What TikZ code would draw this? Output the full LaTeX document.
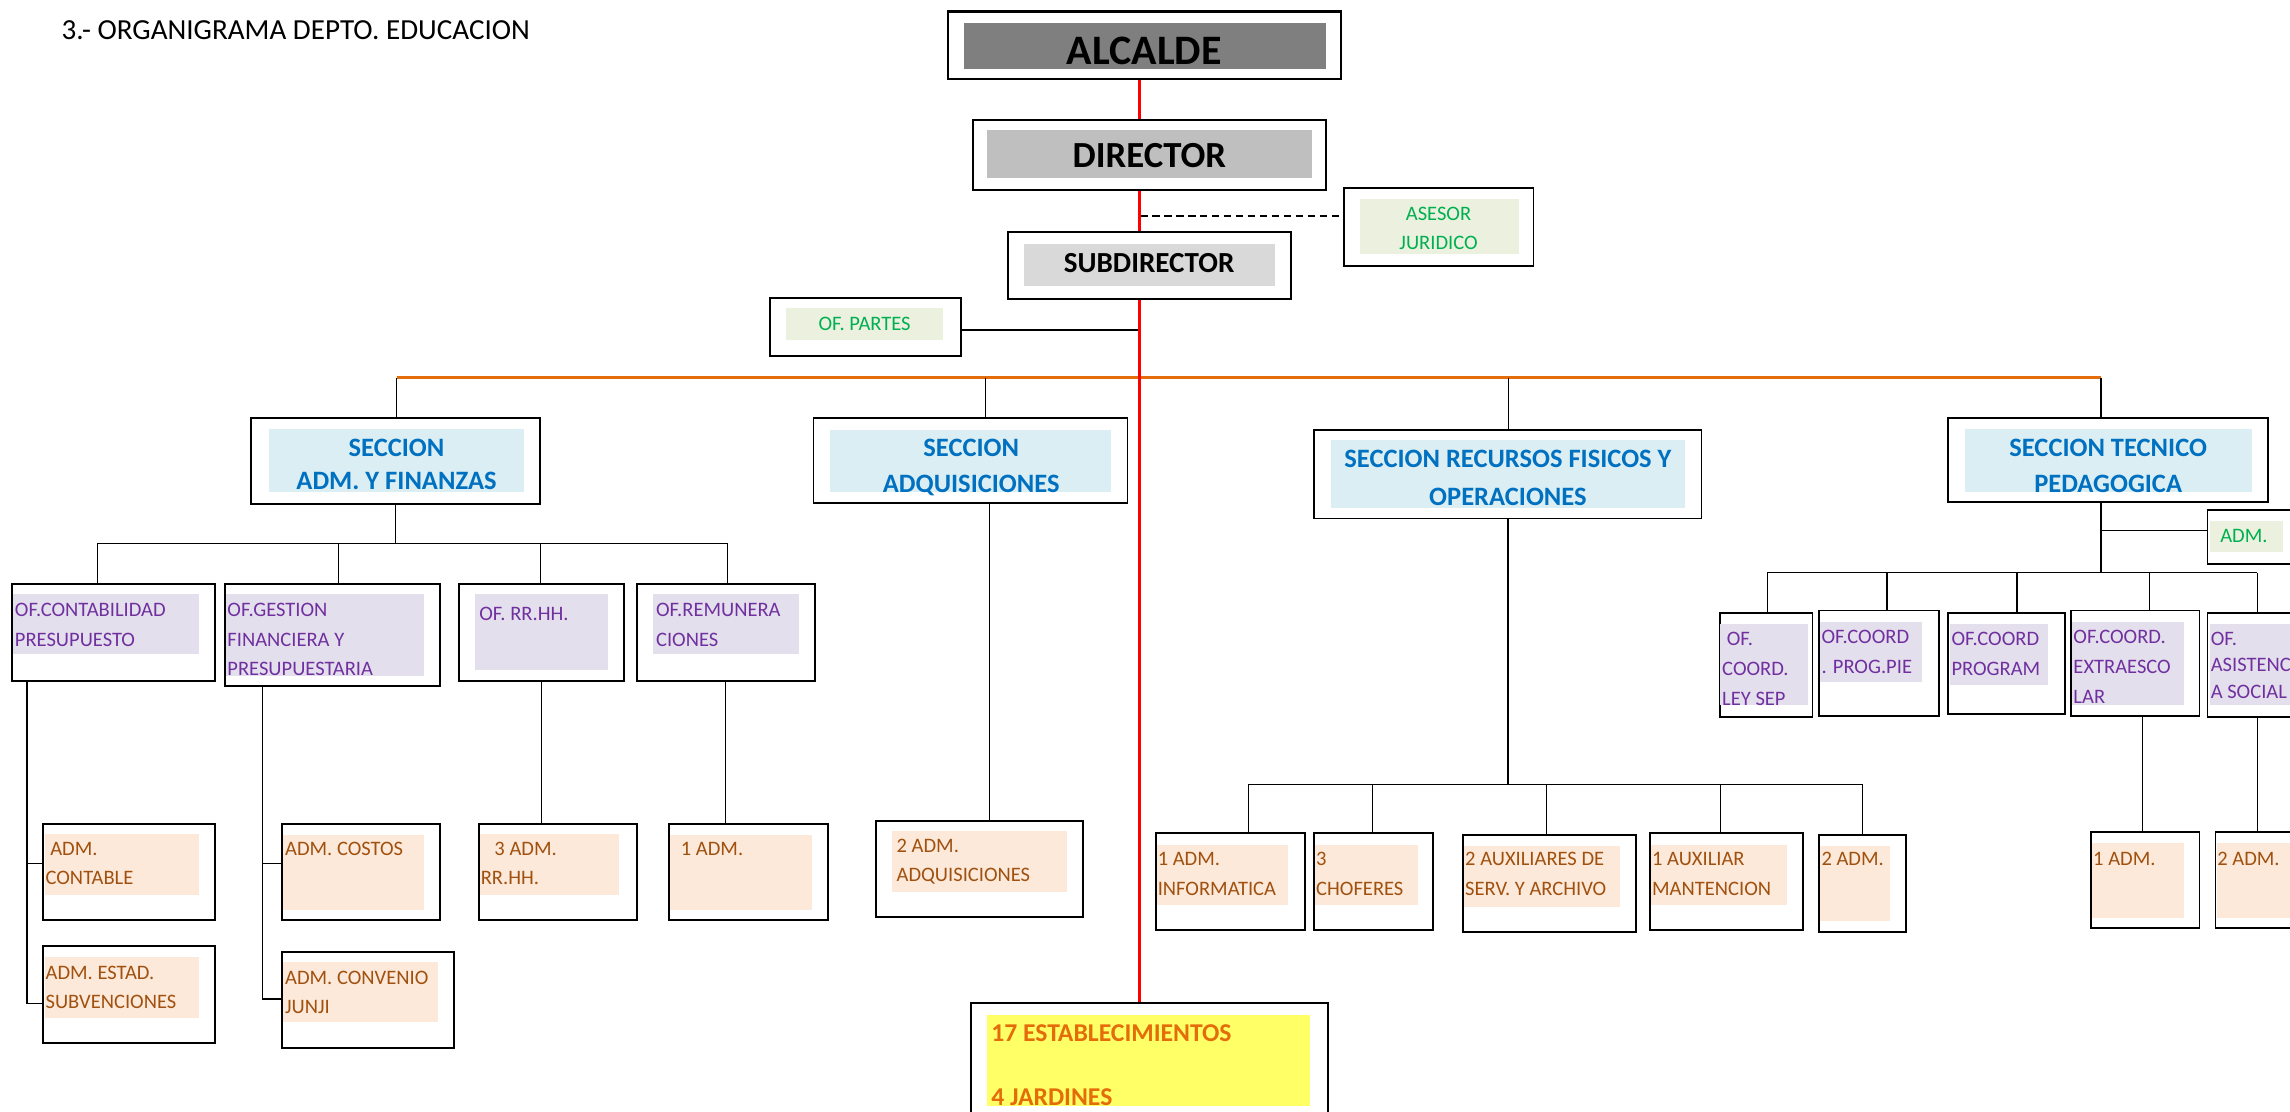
\documentclass[tikz,border=0pt]{standalone}
\usepackage{fontspec}
\setmainfont{Carlito}
\usetikzlibrary{fit}
\definecolor{alcgray}{RGB}{127,127,127}
\definecolor{dirgray}{RGB}{191,191,191}
\definecolor{subgray}{RGB}{217,217,217}
\definecolor{asfill}{RGB}{235,241,222}
\definecolor{astext}{RGB}{0,176,80}
\definecolor{secfill}{RGB}{219,238,243}
\definecolor{sectext}{RGB}{0,112,192}
\definecolor{offill}{RGB}{228,223,236}
\definecolor{oftext}{RGB}{112,48,160}
\definecolor{admfill}{RGB}{253,233,217}
\definecolor{admtext}{RGB}{160,80,15}
\definecolor{estfill}{RGB}{255,255,102}
\definecolor{esttext}{RGB}{228,108,10}
\definecolor{spinered}{RGB}{255,0,0}
\definecolor{busorange}{RGB}{228,108,10}
\tikzset{
  bx/.style={draw=black,line width=1.1pt,inner sep=0pt},
  lk/.style={line width=0.7pt},
  rline/.style={draw=spinered,line width=1.7pt},
  oline/.style={draw=busorange,line width=1.7pt},
  dline/.style={line width=1.2pt,dash pattern=on 4.5pt off 2.5pt},
  txt/.style={inner sep=0pt,anchor=north west,align=left,font=\fontsize{12}{17.5}\selectfont},
  ptxt/.style={txt,text=oftext},
  ntxt/.style={txt,text=admtext,font=\fontsize{12}{17.1}\selectfont},
  gtxt/.style={txt,text=astext},
  stxt/.style={inner sep=0pt,anchor=north,align=center,text=sectext,font=\bfseries\fontsize{15.5}{21.3}\selectfont},
  htxt/.style={inner sep=0pt,anchor=north}
}
\begin{document}
\begin{tikzpicture}[x=0.03cm,y=-0.03cm]
  \useasboundingbox[fill=white] (0,0) rectangle (1568,761);
  \clip (0,0) rectangle (1568,761);
  \node[txt,font=\fontsize{17}{20}\selectfont] (title) at (42,14.2) {3.- ORGANIGRAMA DEPTO. EDUCACION};
  % mando superior
  \node[bx,line width=1.4pt,fit={(649,8)(918,54)}] (alc) {}; \fill[alcgray] (660,16) rectangle (908,47);
  \node[htxt,font=\bfseries\fontsize{24.5}{28}\selectfont] (alc-t) at (783.5,25) {ALCALDE};
  \node[bx,line width=1.3pt,fit={(666,82)(908,130)}] (dir) {}; \fill[dirgray] (676,89) rectangle (898,122);
  \node[htxt,font=\bfseries\fontsize{21.5}{25}\selectfont] (dir-t) at (787,97.7) {DIRECTOR};
  \node[bx,fit={(690,159)(884,205)}] (sub) {}; \fill[subgray] (701,167) rectangle (873,196);
  \node[htxt,font=\bfseries\fontsize{17}{20}\selectfont] (sub-t) at (786.8,173.4) {SUBDIRECTOR};
  \node[bx,fit={(920,129)(1050,182)}] (ase) {}; \fill[asfill] (931,136) rectangle (1040,174);
  \node[gtxt,anchor=north,align=center,font=\fontsize{12}{17.1}\selectfont] (ase-t) at (985,141.5) {ASESOR\\JURIDICO};
  \node[bx,fit={(527,204)(658,244)}] (par) {}; \fill[asfill] (538,211) rectangle (646,233);
  \node[gtxt,anchor=north] (par-t) at (592,217) {OF. PARTES};
  % secciones
  \node[bx,fit={(172,286.5)(370,345)}] (adm) {}; \fill[secfill] (184,294) rectangle (359,337);
  \node[stxt,font=\bfseries\fontsize{15.5}{19.6}\selectfont] (adm-t) at (271.5,300.3) {SECCION\\ADM. Y FINANZAS};
  \node[bx,fit={(557,286)(772,344.5)}] (adq) {}; \fill[secfill] (568,294.5) rectangle (761,337);
  \node[stxt] (adq-t) at (665,300.3) {SECCION\\ADQUISICIONES};
  \node[bx,fit={(900,294.5)(1165,355)}] (rf) {}; \fill[secfill] (911.5,301) rectangle (1154,348);
  \node[stxt,font=\bfseries\fontsize{15.5}{22.2}\selectfont] (rf-t) at (1032.5,307.8) {SECCION RECURSOS FISICOS Y\\OPERACIONES};
  \node[bx,fit={(1334,286)(1553,344)}] (tec) {}; \fill[secfill] (1345.5,294) rectangle (1542,337);
  \node[stxt] (tec-t) at (1443.5,300.3) {SECCION TECNICO\\PEDAGOGICA};
  % oficinas adm. y finanzas
  \node[bx,fit={(8,400)(147,466)}] (con) {}; \fill[offill] (9,407) rectangle (136,448);
  \node[ptxt] (con-t) at (10,412.5) {OF.CONTABILIDAD\\PRESUPUESTO};
  \node[bx,fit={(154,400)(301,470)}] (ges) {}; \fill[offill] (155,407) rectangle (290,463);
  \node[ptxt] (ges-t) at (155.5,412.5) {OF.GESTION\\FINANCIERA Y\\PRESUPUESTARIA};
  \node[bx,fit={(314,400)(427,466)}] (rrh) {}; \fill[offill] (325,407) rectangle (416,459);
  \node[ptxt] (rrh-t) at (328,415.5) {OF. RR.HH.};
  \node[bx,fit={(436,400)(558,466)}] (rem) {}; \fill[offill] (447,407) rectangle (547,448);
  \node[ptxt] (rem-t) at (449,412.5) {OF.REMUNERA\\CIONES};
  \node[bx,fit={(29.5,564)(147,630)}] (cnt) {}; \fill[admfill] (31,571) rectangle (136,613);
  \node[ntxt] (cnt-t) at (31,576.5) {\ ADM.\\CONTABLE};
  \node[bx,fit={(29.5,648)(147,714)}] (sbv) {}; \fill[admfill] (31,655) rectangle (136,697);
  \node[ntxt] (sbv-t) at (31,661) {ADM. ESTAD.\\SUBVENCIONES};
  \node[bx,fit={(193,564)(301,630)}] (cos) {}; \fill[admfill] (194,572) rectangle (290,623);
  \node[ntxt] (cos-t) at (195,576.5) {ADM. COSTOS};
  \node[bx,fit={(193,652)(311,717.5)}] (jun) {}; \fill[admfill] (194,659) rectangle (300,700);
  \node[ntxt] (jun-t) at (195,664.5) {ADM. CONVENIO\\JUNJI};
  \node[bx,fit={(328,564)(436,630)}] (r3) {}; \fill[admfill] (329,571) rectangle (424,613);
  \node[ntxt] (r3-t) at (329,576.5) {\hspace*{0.28cm}3 ADM.\\RR.HH.};
  \node[bx,fit={(458,564)(567,630)}] (a1) {}; \fill[admfill] (459,572) rectangle (556,623);
  \node[ntxt] (a1-t) at (466,576.5) {1 ADM.};
  \node[bx,fit={(600,562)(741.5,628)}] (aq2) {}; \fill[admfill] (611,569) rectangle (730.6,611);
  \node[ntxt] (aq2-t) at (613.7,574.5) {2 ADM.\\ADQUISICIONES};
  % recursos fisicos
  \node[bx,fit={(791.5,570.5)(893.5,637)}] (inf) {}; \fill[admfill] (792,578.6) rectangle (882,619.6);
  \node[ntxt] (inf-t) at (792.5,583.5) {1 ADM.\\INFORMATICA};
  \node[bx,fit={(900,570.5)(981,637)}] (cho) {}; \fill[admfill] (900.5,578.6) rectangle (971,619.6);
  \node[ntxt] (cho-t) at (901,583.5) {3\\CHOFERES};
  \node[bx,fit={(1002,572)(1120,638)}] (aux) {}; \fill[admfill] (1002.5,579) rectangle (1109,621);
  \node[ntxt] (aux-t) at (1003,583.5) {2 AUXILIARES DE\\SERV. Y ARCHIVO};
  \node[bx,fit={(1130,570.5)(1234.5,637)}] (man) {}; \fill[admfill] (1130.5,578.6) rectangle (1223.5,619.6);
  \node[ntxt] (man-t) at (1131,583.5) {1 AUXILIAR\\MANTENCION};
  \node[bx,fit={(1245.5,572)(1305,638)}] (ad2) {}; \fill[admfill] (1246,579) rectangle (1294,630.6);
  \node[ntxt] (ad2-t) at (1247,583.5) {2 ADM.};
  % tecnico pedagogica
  \node[bx,fit={(1511.5,349)(1590,386)}] (tadm) {}; \fill[asfill] (1513,357) rectangle (1563,378);
  \node[gtxt] (tadm-t) at (1520,362.5) {ADM.};
  \node[bx,fit={(1177.5,420)(1241,491)}] (sep) {}; \fill[offill] (1178,427) rectangle (1238,483);
  \node[ptxt] (sep-t) at (1179,432.5) {\ OF.\\COORD.\\LEY SEP};
  \node[bx,fit={(1245.5,418)(1327.6,490)}] (pie) {}; \fill[offill] (1246,426) rectangle (1316,467);
  \node[ptxt] (pie-t) at (1247,431) {OF.COORD\\. PROG.PIE};
  \node[bx,fit={(1334,420)(1414,489)}] (prg) {}; \fill[offill] (1335,427) rectangle (1402,469);
  \node[ptxt] (prg-t) at (1336,432.5) {OF.COORD\\PROGRAM};
  \node[bx,fit={(1418,418)(1506,490)}] (ext) {}; \fill[offill] (1419,426) rectangle (1495.5,483);
  \node[ptxt] (ext-t) at (1419.5,431) {OF.COORD.\\EXTRAESCO\\LAR};
  \node[bx,fit={(1511.5,420)(1590,491)}] (asi) {}; \fill[offill] (1513,427) rectangle (1590,483);
  \node[ptxt,font=\fontsize{12}{15.5}\selectfont] (asi-t) at (1513.5,432.5) {OF.\\ASISTENCI\\A SOCIAL};
  \node[bx,fit={(1432,569.5)(1506,635.6)}] (ta1) {}; \fill[admfill] (1432.5,577) rectangle (1495.5,628.6);
  \node[ntxt] (ta1-t) at (1433,583.5) {1 ADM.};
  \node[bx,fit={(1517,569.5)(1590,635.6)}] (ta2) {}; \fill[admfill] (1518,577) rectangle (1590,628.6);
  \node[ntxt] (ta2-t) at (1518,583.5) {2 ADM.};
  % establecimientos
  \node[bx,fit={(665,687)(909,780)}] (est) {}; \fill[estfill] (676,695) rectangle (897,757);
  \node[txt,text=esttext,font=\bfseries\fontsize{15}{37.3}\selectfont] (est-t) at (678.5,701.7) {17 ESTABLECIMIENTOS\\4 JARDINES};
  % conectores
  \coordinate (spine) at (780.5,0); \coordinate (asj) at (780.5,148); \coordinate (pj) at (780.5,226);
  \draw[dline] (asj) -- (asj -| ase.west);
  \draw[lk,line width=1.3pt] (pj) -- (pj -| par.east);
  \coordinate (o1) at (271.5,258.5); \coordinate (o2) at (674.7,258.5); \coordinate (o3) at (1033,258.5); \coordinate (o4) at (1438.6,258.5);
  \draw[oline] (o1) -- (o4);
  \foreach \c/\n in {o1/adm,o2/adq,o3/rf,o4/tec} \draw[lk] (\c) -- (\c |- \n.north);
  \draw[rline] (spine |- alc.south) -- (spine |- dir.north);
  \draw[rline] (spine |- dir.south) -- (spine |- sub.north);
  \draw[rline] (spine |- sub.south) -- (spine |- est.north);
  \coordinate (fb) at (0,372);
  \draw[lk] (adm.south) -- (adm.south |- fb);
  \foreach \n/\x in {con/67,ges/232,rrh/370,rem/498} \coordinate (fb-\n) at (\x,372);
  \draw[lk] (fb-con) -- (fb-rem);
  \foreach \n in {con,ges,rrh,rem} \draw[lk] (fb-\n) -- (fb-\n |- \n.north);
  \coordinate (cv1) at (18.5,591.5); \coordinate (cv2) at (18.5,687);
  \draw[lk] (cv1 |- con.south) -- (cv2) -- (cv2 -| sbv.west); \draw[lk] (cv1) -- (cv1 -| cnt.west);
  \coordinate (gv1) at (180,591.5); \coordinate (gv2) at (180,684);
  \draw[lk] (gv1 |- ges.south) -- (gv2) -- (gv2 -| jun.west); \draw[lk] (gv1) -- (gv1 -| cos.west);
  \draw[lk] (rrh.south) -- (rrh.south |- r3.north);
  \draw[lk] (rem.south) -- (rem.south |- a1.north);
  \coordinate (qv) at (677.5,0);
  \draw[lk] (qv |- adq.south) -- (qv |- aq2.north);
  \coordinate (rb) at (0,537);
  \draw[lk] (rf.south) -- (rf.south |- rb);
  \foreach \n/\x in {inf/855,cho/940,aux/1059,man/1178,ad2/1275} \coordinate (rb-\n) at (\x,537);
  \draw[lk] (rb-inf) -- (rb-ad2);
  \foreach \n in {inf,cho,aux,man,ad2} \draw[lk] (rb-\n) -- (rb-\n |- \n.north);
  \coordinate (tb) at (0,392); \coordinate (tj) at (1438.6,363.4);
  \draw[lk] (o4 |- tec.south) -- (o4 |- tb); \draw[lk] (tj) -- (tj -| tadm.west);
  \foreach \n/\x in {sep/1210,pie/1292,prg/1381,ext/1472,asi/1545.5} \coordinate (tb-\n) at (\x,392);
  \draw[lk] (tb-sep) -- (tb-asi);
  \foreach \n in {sep,pie,prg,ext,asi} \draw[lk] (tb-\n) -- (tb-\n |- \n.north);
  \coordinate (ev) at (1467,0); \coordinate (av) at (1545.5,0);
  \draw[lk] (ev |- ext.south) -- (ev |- ta1.north);
  \draw[lk] (av |- asi.south) -- (av |- ta2.north);
\end{tikzpicture}
\end{document}
